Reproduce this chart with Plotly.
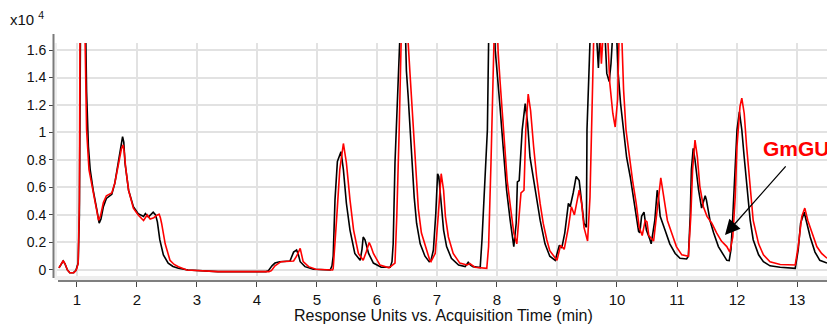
import plotly.graph_objects as go

# ---- data (time in min, response in x10^4 counts) ----
black_t = [0.70, 0.74, 0.77, 0.80, 0.84, 0.88, 0.94, 0.98, 1.02, 1.04, 1.05, 1.07, 1.11, 1.14, 1.16, 1.19,
           1.22, 1.27, 1.33, 1.37, 1.40, 1.44, 1.49, 1.58, 1.63, 1.69, 1.74, 1.76, 1.78, 1.80, 1.86, 1.94,
           2.02, 2.11, 2.14, 2.19, 2.27, 2.31, 2.34, 2.38, 2.44, 2.52, 2.60, 2.69, 2.85, 3.22, 3.35, 4.15,
           4.19, 4.25, 4.30, 4.38, 4.55, 4.61, 4.66, 4.69, 4.72, 4.80, 4.94, 5.22, 5.25, 5.27, 5.30, 5.34,
           5.40, 5.44, 5.49, 5.55, 5.63, 5.72, 5.75, 5.77, 5.80, 5.86, 5.94, 6.07, 6.22, 6.25, 6.27, 6.30,
           6.34, 6.38, 6.40, 6.47, 6.49, 6.52, 6.55, 6.58, 6.62, 6.66, 6.72, 6.80, 6.87, 6.90, 6.94, 6.98,
           7.01, 7.03, 7.07, 7.11, 7.16, 7.24, 7.36, 7.47, 7.52, 7.56, 7.60, 7.72, 7.75, 7.80, 7.84, 7.86,
           7.88, 7.95, 7.97, 7.99, 8.02, 8.05, 8.08, 8.12, 8.16, 8.22, 8.27, 8.28, 8.32, 8.34, 8.37, 8.42,
           8.47, 8.51, 8.55, 8.61, 8.66, 8.72, 8.80, 8.88, 8.97, 9.04, 9.08, 9.13, 9.19, 9.22, 9.27, 9.32,
           9.37, 9.41, 9.45, 9.49, 9.50, 9.54, 9.56, 9.62, 9.66, 9.69, 9.72, 9.78, 9.83, 9.87, 9.90, 9.94,
           9.99, 10.02, 10.06, 10.11, 10.16, 10.22, 10.27, 10.32, 10.36, 10.38, 10.41, 10.45, 10.49, 10.55,
           10.57, 10.63, 10.67, 10.69, 10.72, 10.80, 10.88, 10.97, 11.05, 11.16, 11.19, 11.22, 11.24, 11.27,
           11.30, 11.36, 11.41, 11.47, 11.49, 11.55, 11.61, 11.69, 11.77, 11.83, 11.87, 11.90, 11.93, 11.97,
           12.00, 12.04, 12.08, 12.12, 12.16, 12.22, 12.27, 12.36, 12.44, 12.55, 12.72, 12.97, 13.02, 13.06,
           13.12, 13.15, 13.22, 13.30, 13.38, 13.50]
black_v = [0.015, 0.05, 0.065, 0.045, 0.0, -0.02, -0.02, -0.005, 0.05, 0.4, 1.5, 2.6, 2.4, 1.9, 1.3, 0.9,
           0.73, 0.58, 0.44, 0.34, 0.37, 0.46, 0.52, 0.55, 0.63, 0.79, 0.92, 0.97, 0.93, 0.78, 0.58, 0.46,
           0.41, 0.39, 0.41, 0.385, 0.42, 0.40, 0.35, 0.22, 0.11, 0.05, 0.025, 0.012, 0.0, -0.007, -0.012, -0.012,
           -0.005, 0.03, 0.05, 0.06, 0.065, 0.13, 0.145, 0.11, 0.06, 0.024, 0.005, 0.0, 0.03, 0.1, 0.51, 0.79,
           0.86, 0.73, 0.485, 0.29, 0.12, 0.07, 0.15, 0.24, 0.22, 0.12, 0.05, 0.02, 0.02, 0.06, 0.19, 0.78,
           1.26, 1.62, 1.9, 1.8, 1.45, 1.26, 1.02, 0.78, 0.53, 0.34, 0.19, 0.10, 0.06, 0.07, 0.145, 0.41,
           0.70, 0.68, 0.485, 0.29, 0.17, 0.085, 0.036, 0.024, 0.055, 0.035, 0.024, 0.017, 0.22, 0.68, 1.02, 1.65,
           2.2, 2.0, 1.6, 1.5, 1.36, 1.19, 1.02, 0.78, 0.58, 0.36, 0.19, 0.17, 0.34, 0.64, 0.65, 1.02,
           1.21, 1.07, 0.82, 0.65, 0.51, 0.36, 0.19, 0.10, 0.07, 0.18, 0.16, 0.27, 0.485, 0.46, 0.56, 0.68,
           0.65, 0.485, 0.34, 0.31, 1.02, 1.53, 1.8, 2.0, 1.7, 1.47, 1.75, 1.9, 1.43, 1.37, 1.5, 1.8,
           1.75, 1.43, 1.21, 1.02, 0.82, 0.68, 0.53, 0.39, 0.28, 0.27, 0.39, 0.42, 0.29, 0.22,
           0.19, 0.36, 0.58, 0.53, 0.39, 0.29, 0.19, 0.12, 0.085, 0.08, 0.1, 0.39, 0.73, 0.885,
           0.80, 0.58, 0.45, 0.54, 0.51, 0.36, 0.27, 0.17, 0.11, 0.07, 0.068, 0.15, 0.39, 0.73,
           1.02, 1.15, 1.02, 0.82, 0.61, 0.36, 0.22, 0.11, 0.06, 0.03, 0.02, 0.012, 0.145, 0.34,
           0.42, 0.36, 0.24, 0.13, 0.07, 0.05]

red_t = [0.70, 0.74, 0.77, 0.80, 0.84, 0.88, 0.95, 0.99, 1.02, 1.04, 1.05, 1.07, 1.11, 1.13, 1.16, 1.20,
         1.27, 1.33, 1.36, 1.39, 1.44, 1.49, 1.58, 1.63, 1.69, 1.74, 1.77, 1.79, 1.81, 1.86, 1.94, 2.02,
         2.11, 2.17, 2.22, 2.28, 2.34, 2.37, 2.39, 2.41, 2.47, 2.55, 2.62, 2.69, 2.83, 3.22, 3.35, 4.20,
         4.24, 4.30, 4.36, 4.40, 4.61, 4.66, 4.72, 4.74, 4.77, 4.86, 4.98, 5.26, 5.27, 5.33, 5.38, 5.44,
         5.49, 5.55, 5.61, 5.69, 5.77, 5.82, 5.87, 5.90, 5.94, 6.05, 6.20, 6.30, 6.33, 6.37, 6.41, 6.43,
         6.50, 6.52, 6.55, 6.58, 6.62, 6.65, 6.69, 6.74, 6.82, 6.88, 6.90, 6.97, 7.02, 7.07, 7.11, 7.14,
         7.19, 7.27, 7.38, 7.50, 7.55, 7.63, 7.83, 7.86, 7.90, 7.93, 7.95, 7.98, 8.01, 8.02, 8.05, 8.09,
         8.13, 8.17, 8.23, 8.28, 8.33, 8.37, 8.40, 8.45, 8.48, 8.52, 8.56, 8.61, 8.66, 8.72, 8.77, 8.83,
         8.88, 9.00, 9.06, 9.12, 9.19, 9.24, 9.29, 9.37, 9.41, 9.45, 9.49, 9.51, 9.55, 9.58, 9.61, 9.66,
         9.71, 9.74, 9.78, 9.84, 9.88, 9.93, 9.97, 10.01, 10.04, 10.08, 10.11, 10.15, 10.21, 10.26, 10.32, 10.37,
         10.42, 10.47, 10.50, 10.53, 10.61, 10.66, 10.73, 10.78, 10.84, 10.91, 10.99, 11.08, 11.19, 11.23, 11.26, 11.30,
         11.34, 11.38, 11.44, 11.50, 11.58, 11.66, 11.74, 11.83, 11.88, 11.93, 11.97, 12.00, 12.05, 12.08, 12.12, 12.16,
         12.22, 12.27, 12.36, 12.44, 12.55, 12.72, 12.97, 13.02, 13.08, 13.13, 13.18, 13.25, 13.33, 13.41, 13.50]
red_v = [0.015, 0.05, 0.068, 0.045, 0.0, -0.02, -0.02, 0.0, 0.05, 0.5, 1.7, 2.6, 2.4, 1.8, 1.02, 0.73,
         0.58, 0.45, 0.36, 0.39, 0.49, 0.54, 0.56, 0.63, 0.77, 0.88, 0.91, 0.85, 0.75, 0.58, 0.45, 0.40,
         0.36, 0.40, 0.37, 0.38, 0.40, 0.405, 0.38, 0.34, 0.19, 0.07, 0.04, 0.024, 0.0, -0.007, -0.012, -0.012,
         -0.005, 0.03, 0.05, 0.06, 0.065, 0.10, 0.157, 0.12, 0.06, 0.024, 0.005, 0.0, 0.01, 0.39, 0.73, 0.92,
         0.78, 0.51, 0.29, 0.12, 0.07, 0.13, 0.20, 0.17, 0.12, 0.035, 0.015, 0.05, 0.39, 1.02, 1.65, 2.2,
         2.0, 1.65, 1.43, 1.21, 0.95, 0.68, 0.44, 0.27, 0.145, 0.07, 0.06, 0.12, 0.39, 0.70, 0.58, 0.39,
         0.24, 0.12, 0.05, 0.036, 0.046, 0.02, 0.012, 0.17, 0.78, 1.38, 1.8, 2.2, 1.7, 1.58, 1.38, 1.11,
         0.87, 0.65, 0.44, 0.27, 0.19, 0.39, 0.56, 0.58, 1.02, 1.28, 1.16, 0.90, 0.68, 0.48, 0.34, 0.22,
         0.14, 0.07, 0.18, 0.15, 0.31, 0.46, 0.40, 0.58, 0.485, 0.31, 0.24, 0.21, 0.53, 1.02, 1.65, 2.0,
         1.8, 1.50, 1.8, 1.75, 1.36, 1.14, 1.04, 1.24, 1.8, 1.7, 1.31, 1.02, 0.80, 0.65, 0.485, 0.31,
         0.25, 0.36, 0.35, 0.25, 0.21, 0.39, 0.67, 0.53, 0.36, 0.27, 0.17, 0.11, 0.10, 0.39, 0.73, 0.945,
         0.82, 0.61, 0.46, 0.39, 0.34, 0.27, 0.21, 0.17, 0.13, 0.24, 0.53, 0.90, 1.19, 1.25, 1.14, 0.90,
         0.58, 0.36, 0.19, 0.11, 0.06, 0.04, 0.036, 0.17, 0.39, 0.45, 0.36, 0.27, 0.17, 0.12, 0.085]

x_ticks = list(range(1, 14))
y_ticks = [0, 0.2, 0.4, 0.6, 0.8, 1.0, 1.2, 1.4, 1.6]
y_tick_text = ["0", "0.2", "0.4", "0.6", "0.8", "1", "1.2", "1.4", "1.6"]
x_title = "Response Units vs. Acquisition Time (min)"
y_scale_label = "x10 <sup>4</sup>"
label_text = "GmGU"
arrow_target = (11.8, 0.255)

# ---- geometry (pixels) ----
W, H = 827, 327
ML, MR, MT, MB = 53, 0, 34, 46
PW, PH = W - ML - MR, H - MT - MB


def px(x):
    return (x - ML) / PW


def py(y):
    return (H - MB - y) / PH


FONT = "Liberation Sans, Arial, sans-serif"

fig = go.Figure()
fig.add_trace(go.Scatter(x=black_t, y=black_v, mode="lines",
                         line=dict(color="#000000", width=1.6), hoverinfo="skip"))
fig.add_trace(go.Scatter(x=red_t, y=red_v, mode="lines",
                         line=dict(color="#ff0000", width=1.6), hoverinfo="skip"))

shapes = [
    # light gray margin bands
    dict(type="rect", xref="paper", yref="paper", x0=px(54.5), x1=px(57), y0=py(276), y1=py(43),
         fillcolor="#eeeeee", line=dict(width=0), layer="below"),
    dict(type="rect", xref="paper", yref="paper", x0=px(54.5), x1=1, y0=py(280), y1=py(276),
         fillcolor="#eeeeee", line=dict(width=0), layer="below"),
    # axis lines
    dict(type="line", xref="paper", yref="paper", x0=px(53.5), x1=px(53.5), y0=py(278), y1=py(34),
         line=dict(color="#7a7a7a", width=2)),
    dict(type="line", xref="paper", yref="paper", x0=px(58), x1=1, y0=py(281), y1=py(281),
         line=dict(color="#555555", width=1.5)),
]

annotations = [
    dict(text=y_scale_label, xref="paper", yref="paper", x=px(8), y=py(19), xanchor="left",
         yanchor="middle", showarrow=False, font=dict(family=FONT, size=15, color="#111111")),
    dict(text=x_title, xref="paper", yref="paper", x=px(443), y=py(315), xanchor="center",
         yanchor="middle", showarrow=False, font=dict(family=FONT, size=16, color="#111111")),
    dict(text="<b>" + label_text + "</b>", xref="paper", yref="paper", x=px(761), y=py(148),
         xanchor="left", yanchor="middle", showarrow=False,
         font=dict(family=FONT, size=21, color="#ff0000")),
    dict(text="", x=arrow_target[0], y=arrow_target[1], xref="x", yref="y",
         showarrow=True, ax=62, ay=-70, axref="pixel", ayref="pixel",
         arrowhead=2, arrowsize=2.3, arrowwidth=1.3, arrowcolor="#000000", standoff=0),
]

fig.update_layout(
    width=W, height=H,
    margin=dict(l=ML, r=MR, t=MT, b=MB, pad=0),
    paper_bgcolor="white", plot_bgcolor="white",
    showlegend=False,
    font=dict(family=FONT, size=14, color="#111111"),
    shapes=shapes, annotations=annotations,
    xaxis=dict(domain=[px(57), 1], range=[0.667, 13.5], anchor="free", position=0,
               tickvals=x_ticks, ticktext=[str(v) for v in x_ticks],
               ticks="outside", ticklen=5, tickwidth=1, tickcolor="#444444",
               showgrid=True, gridcolor="#e2e2e2", gridwidth=1.6, zeroline=False,
               showline=False, tickfont=dict(family=FONT, size=15, color="#111111")),
    yaxis=dict(domain=[py(276), py(43)], range=[-0.044, 1.651], anchor="free", position=0,
               tickvals=y_ticks, ticktext=y_tick_text,
               ticks="outside", ticklen=4, tickwidth=1, tickcolor="#444444",
               showgrid=True, gridcolor="#e2e2e2", gridwidth=1.6, zeroline=False,
               showline=False, tickfont=dict(family=FONT, size=14, color="#111111")),
)

fig.write_html(
    "out.html",
    config={"displayModeBar": False},
    post_script="document.body.style.margin='0';document.body.style.padding='0';"
                "document.body.style.overflow='hidden';",
)
